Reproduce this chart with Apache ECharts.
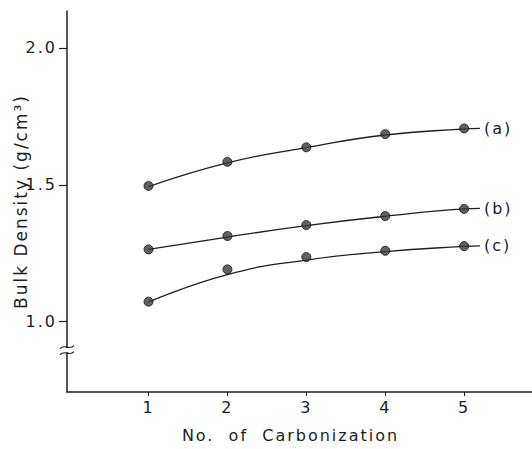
<!DOCTYPE html>
<html>
<head>
<meta charset="utf-8">
<script src="https://cdn.jsdelivr.net/npm/echarts@6/dist/echarts.min.js"></script>
<style>
  html, body { margin: 0; padding: 0; background: #fff; }
  #chart { width: 532px; height: 449px; }
  /* widely spaced lettering of the typed captions */
  #chart svg text { letter-spacing: 2px; }
</style>
</head>
<body>
<div id="chart"></div>
<script>
// Measured bulk density after each carbonization cycle
const cycles = [1, 2, 3, 4, 5];
const densityA = [1.496, 1.584, 1.637, 1.685, 1.706];
const densityB = [1.264, 1.313, 1.353, 1.386, 1.412];
const densityC = [1.073, 1.191, 1.236, 1.259, 1.276];

// Hand-drawn trend curves through each set
const curveX = [1, 2, 3, 4, 5, 5.2];
const curveA = [1.493, 1.580, 1.636, 1.682, 1.704, 1.706];
const curveB = [1.264, 1.309, 1.351, 1.385, 1.412, 1.414];
const curveC = [1.072, 1.172, 1.225, 1.256, 1.275, 1.277];

const curveLabels = ['(a)', '(b)', '(c)'];
const yTickValues = [1.0, 1.5, 2.0];
const xTickValues = [1, 2, 3, 4, 5];

const ink = '#1e1e1e';
const font = 'DejaVu Sans';

const pairs = (xs, ys) => xs.map((x, i) => [x, ys[i]]);

function curveSeries(ys, label) {
  return {
    type: 'line',
    data: pairs(curveX, ys),
    smooth: 0.5,
    showSymbol: false,
    silent: true,
    lineStyle: { color: ink, width: 1.3 },
    endLabel: {
      show: true,
      formatter: label,
      color: ink,
      fontFamily: font,
      fontSize: 16,
      distance: 4
    },
    z: 2
  };
}

function pointSeries(ys) {
  return {
    type: 'scatter',
    data: pairs(cycles, ys),
    symbol: 'circle',
    symbolSize: 9,
    itemStyle: { color: '#3a3a3a', borderColor: '#111', borderWidth: 1 },
    z: 3
  };
}

const chart = echarts.init(document.getElementById('chart'), null, { renderer: 'svg' });

chart.setOption({
  animation: false,
  backgroundColor: '#fff',
  grid: { left: 67, right: 0, top: 11, bottom: 57, outerBoundsMode: 'none', containLabel: false },
  xAxis: {
    type: 'value',
    min: -0.033,
    max: 5.86,
    name: 'No.  of  Carbonization',
    nameLocation: 'middle',
    nameGap: 35,
    nameTextStyle: { color: ink, fontFamily: font, fontSize: 16, padding: [0, 18, 0, 0] },
    splitLine: { show: false },
    axisLine: { onZero: false, lineStyle: { color: ink, width: 1.5 } },
    axisTick: {
      show: true,
      length: 4,
      customValues: xTickValues,
      lineStyle: { color: ink, width: 1 }
    },
    axisLabel: {
      customValues: xTickValues,
      color: ink,
      fontFamily: font,
      fontSize: 16,
      margin: 7
    }
  },
  yAxis: {
    type: 'value',
    min: 0.743,
    max: 2.135,
    name: 'Bulk Density (g/cm³)',
    nameLocation: 'middle',
    nameGap: 38,
    nameMoveOverlap: false,
    nameTextStyle: { color: ink, fontFamily: font, fontSize: 17 },
    splitLine: { show: false },
    axisLine: { show: true, onZero: false, lineStyle: { color: ink, width: 1.5 } },
    axisTick: {
      show: true,
      length: 8,
      customValues: yTickValues,
      lineStyle: { color: ink, width: 1.2 }
    },
    axisLabel: {
      customValues: yTickValues,
      formatter: v => v.toFixed(1),
      color: ink,
      fontFamily: font,
      fontSize: 16,
      margin: 10
    }
  },
  series: [
    curveSeries(curveA, curveLabels[0]),
    curveSeries(curveB, curveLabels[1]),
    curveSeries(curveC, curveLabels[2]),
    pointSeries(densityA),
    pointSeries(densityB),
    pointSeries(densityC)
  ]
});

// Axis-break mark on the value axis below 1.0
const breakValue = 0.896;
const axisX = chart.convertToPixel({ xAxisIndex: 0 }, -0.033);
const breakY = chart.convertToPixel({ yAxisIndex: 0 }, breakValue);
function wave(dy) {
  const y = breakY + dy;
  return {
    type: 'bezierCurve',
    shape: {
      x1: axisX - 7, y1: y + 1.5,
      cpx1: axisX - 2, cpy1: y - 4,
      cpx2: axisX + 2, cpy2: y + 4,
      x2: axisX + 7, y2: y - 1.5
    },
    style: { fill: null, stroke: ink, lineWidth: 1.2 },
    z: 101
  };
}
chart.setOption({
  graphic: [
    { type: 'rect', shape: { x: axisX - 2, y: breakY - 2, width: 4, height: 4 }, style: { fill: '#fff' }, z: 100 },
    wave(-3),
    wave(3)
  ]
});
</script>
</body>
</html>
